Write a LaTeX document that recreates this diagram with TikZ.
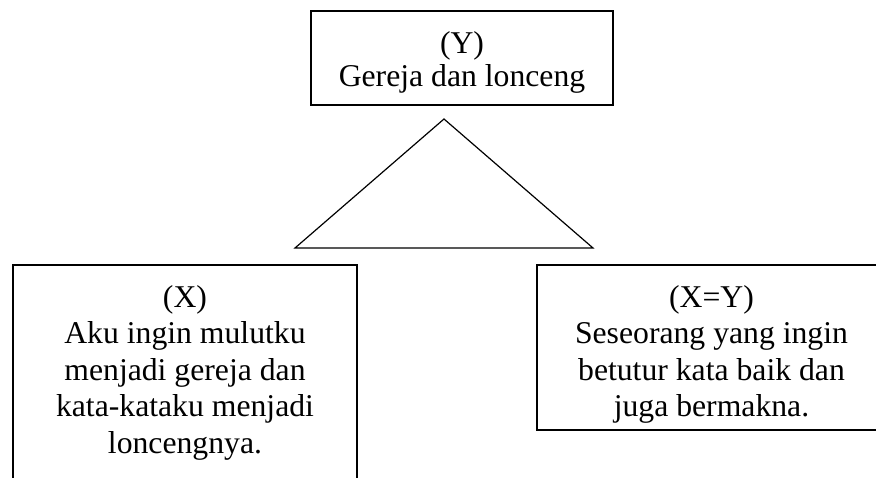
\documentclass[tikz,border=0pt]{standalone}
\usepackage{fontspec}
\setmainfont{Liberation Serif}
\begin{document}
\begin{tikzpicture}[x=1pt,y=-1pt,
  box/.style={draw=black,line width=1.2pt},
  txt/.style={anchor=base,inner sep=0pt,font=\fontsize{31.7}{36.5}\selectfont}]
\useasboundingbox (0,0) rectangle (876,477);
\clip (0,0) rectangle (876,477);
% top box
\draw[box] (311,11) rectangle (613,105);
\node[txt] (ytext) at (462,53) {\begin{tabular}[t]{@{}c@{}}(Y)\\[-3.5pt] Gereja dan lonceng\end{tabular}};
% triangle
\draw[box,line join=miter] (444,119) -- (593,248) -- (295,248) -- cycle;
% left box
\draw[box] (13,265) rectangle (357,500);
\node[txt] (xtext) at (185,307) {\begin{tabular}[t]{@{}c@{}}(X)\\ Aku ingin mulutku\\ menjadi gereja dan\\ kata-kataku menjadi\\ loncengnya.\end{tabular}};
% right box
\draw[box] (537,265) rectangle (900,430);
\node[txt] (xytext) at (711.5,307) {\begin{tabular}[t]{@{}c@{}}(X=Y)\\ Seseorang yang ingin\\ betutur kata baik dan\\ juga bermakna.\end{tabular}};
\end{tikzpicture}
\end{document}
